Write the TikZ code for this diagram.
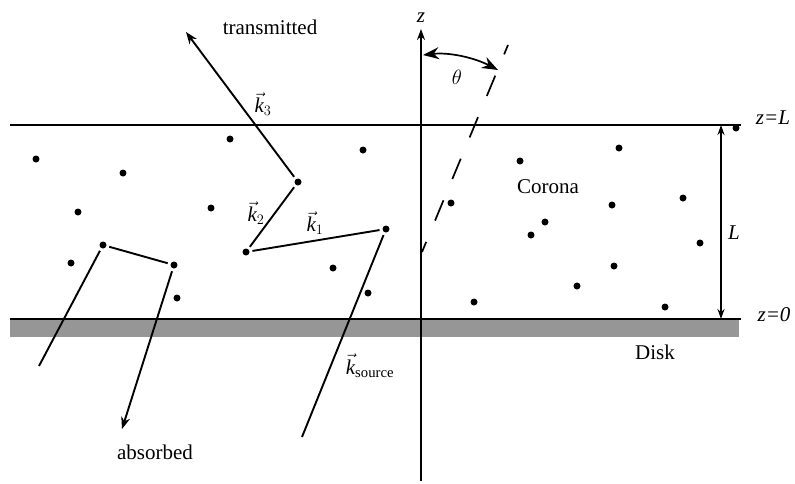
\documentclass[tikz,border=0pt]{standalone}
\usepackage{fontspec}
\setmainfont{Liberation Serif}
\usetikzlibrary{arrows.meta}
\definecolor{diskgray}{RGB}{150,150,150}
\begin{document}
\begin{tikzpicture}[x=1pt,y=-1pt,
  dot/.style={circle,fill=black,inner sep=0pt,minimum size=7pt,outer sep=3pt},
  ray/.style={line width=1.9pt},
  tipend/.style={-{Stealth[length=12pt,width=9pt]}},
  bigtips/.style={{Stealth[length=16pt,width=12pt]}-{Stealth[length=16pt,width=12pt]}},
  dimtips/.style={{Stealth[length=10pt,width=7pt]}-{Stealth[length=10pt,width=7pt]}},
  lbl/.style={font=\fontsize{21}{25}\selectfont,inner sep=0pt}
]
\useasboundingbox (0,0) rectangle (795,483);

% disk and corona boundaries
\fill[diskgray] (10,319) rectangle (739,337);
\coordinate (topL) at (10,125);
\coordinate (topR) at (741,125);
\coordinate (botL) at (10,319);
\coordinate (botR) at (741,319);
\draw[ray] (topL) -- (topR);
\draw[ray] (botL) -- (botR);

% z axis
\coordinate (zb) at (421,481);
\coordinate (zt) at (421,29);
\draw[line width=1.7pt,-{Stealth[length=11pt,width=8pt]}] (zb) -- (zt);
\node[lbl,font=\fontsize{21}{25}\selectfont\itshape,anchor=base] (zlab) at (421,22) {z};

% dashed direction line and theta
\coordinate (da) at (422,252);
\coordinate (db) at (508,45);
\draw[line width=1.7pt,dash pattern=on 22pt off 23pt,dash phase=11pt] (da) -- (db);
\coordinate (th1) at (423,55);
\coordinate (th2) at (498,70);
\draw[line width=1.7pt,bigtips] (th1) .. controls (450,52) and (475,58) .. (th2);
\node[lbl] (theta) at (457,77) {$\theta$};

% L dimension
\coordinate (La) at (721,125);
\coordinate (Lb) at (721,319);
\draw[line width=1.7pt,dimtips] (La) -- (Lb);
\node[lbl] (Llab) at (734,233) {\textit{L}};
\node[lbl] (zL) at (773,118) {\textit{z=L}};
\node[lbl] (z0) at (774,315) {\textit{z=0}};

% dots
\foreach \n/\p in {d1/{(36,159)},d2/{(123,173)},d3/{(78,212)},d4/{(230,139)},d5/{(211,208)},
  v3/{(298,182)},v2/{(246,252)},va/{(103,245)},vb/{(174,265)},d6/{(71,263)},d7/{(177,298)},
  d8/{(363,150)},v1/{(386,229)},d9/{(333,268)},d10/{(368,293)},d11/{(451,203)},d12/{(520,161)},
  d13/{(545,222)},d14/{(531,235)},d15/{(619,148)},d16/{(612,205)},d17/{(683,198)},d18/{(700,243)},
  d19/{(614,266)},d20/{(577,286)},d21/{(474,302)},d22/{(665,307)},d23/{(736,128)}}
  \node[dot] (\n) at \p {};

% free ends
\coordinate (src) at (302,437);
\coordinate (k3end) at (186,32);
\coordinate (absA) at (39,366);
\coordinate (absB) at (122,429);

% photon paths
\draw[ray] (src) -- (v1);
\draw[ray] (v1) -- (v2);
\draw[ray] (v2) -- (v3);
\draw[ray,tipend] (v3) -- (k3end);
\draw[ray] (absA) -- (va);
\draw[ray] (va) -- (vb);
\draw[ray,tipend] (vb) -- (absB);

% labels
\node[lbl] (trans) at (270,27) {transmitted};
\node[lbl] (absorbed) at (155,452) {absorbed};
\node[lbl] (corona) at (548,187) {Corona};
\node[lbl] (disk) at (655,352) {Disk};
\node[lbl] (k3) at (263,104) {$\vec{\mathit{k}}_{3}$};
\node[lbl] (k2) at (256,213) {$\vec{\mathit{k}}_{2}$};
\node[lbl] (k1) at (315,223) {$\vec{\mathit{k}}_{1}$};
\node[lbl] (ks) at (370,366) {$\vec{\mathit{k}}_{\mathrm{source}}$};
\end{tikzpicture}
\end{document}
